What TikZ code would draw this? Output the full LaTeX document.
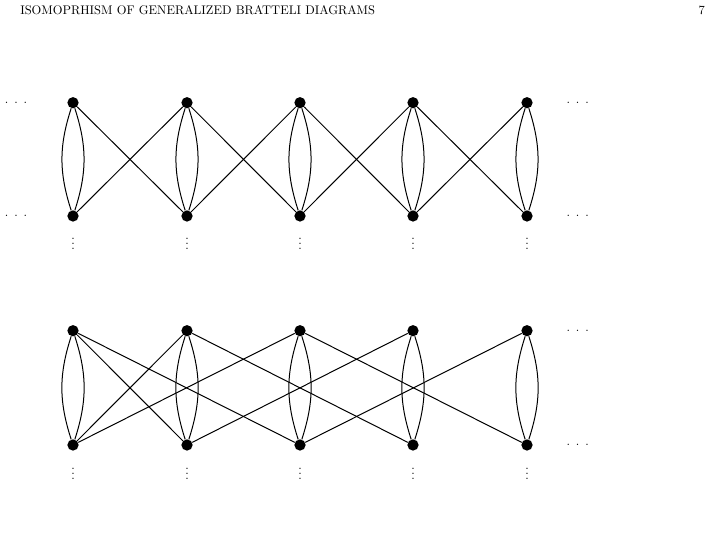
\documentclass[tikz,border=0pt]{standalone}
\usetikzlibrary{positioning}
\tikzset{
  vertex/.style={circle, fill=black, inner sep=0pt, minimum size=9pt},
  edge/.style={line width=0.8pt, draw=black},
  hdots/.style={anchor=base, inner sep=0pt},
  vdotsnode/.style={anchor=base, inner sep=0pt},
  runhead/.style={anchor=base west, inner sep=0pt}
}
\newcommand{\hdotstext}{.\hskip 4.66pt.\hskip 4.66pt.}
\newcommand{\vdotsmark}{\vbox{\baselineskip4pt\lineskiplimit0pt\hbox{.}\hbox{.}\hbox{.}}}

\begin{document}
\begin{tikzpicture}[x=0.8pt,y=-0.8pt]
    \useasboundingbox (0,0) rectangle (710,538);
    % running head
    \node[runhead] (head) at (20,14.5) {ISOMOPRHISM OF GENERALIZED BRATTELI DIAGRAMS};
    \node[anchor=base east,inner sep=0pt] (page) at (705,14.5) {7};
    % first diagram
    \foreach \i/\x in {1/73,2/187,3/300,4/413,5/527}{
      \node[vertex] (top\i) at (\x,102.7) {};
      \node[vertex] (bot\i) at (\x,216) {};
      \node[vdotsnode] (vdA\i) at (\x,249.5) {\vdotsmark};
      \draw[edge] (top\i) to[bend left=18] (bot\i);
      \draw[edge] (top\i) to[bend right=18] (bot\i);
    }
    \foreach \i/\j in {1/2,2/3,3/4,4/5}{
      \draw[edge] (top\i) -- (bot\j);
      \draw[edge] (bot\i) -- (top\j);
    }
    \node[hdots] (dotsTL) at (16,103.4) {\hdotstext};
    \node[hdots] (dotsBL) at (16,216.7) {\hdotstext};
    \node[hdots] (dotsTR) at (577.7,103.4) {\hdotstext};
    \node[hdots] (dotsBR) at (577.7,216.7) {\hdotstext};
    % second diagram
    \foreach \i/\x in {1/73,2/187,3/300,4/413,5/527}{
      \node[vertex] (topB\i) at (\x,330.7) {};
      \node[vertex] (botB\i) at (\x,445) {};
      \node[vdotsnode] (vdB\i) at (\x,479.5) {\vdotsmark};
      \draw[edge] (topB\i) to[bend left=18] (botB\i);
      \draw[edge] (topB\i) to[bend right=18] (botB\i);
    }
    \foreach \i/\j in {1/2,1/3,2/1,2/4,3/1,3/5,4/2,5/3}{
      \draw[edge] (topB\i) -- (botB\j);
    }
    \node[hdots] (dotsTRB) at (577.7,331.4) {\hdotstext};
    \node[hdots] (dotsBRB) at (577.7,445.7) {\hdotstext};
\end{tikzpicture}
\end{document}
